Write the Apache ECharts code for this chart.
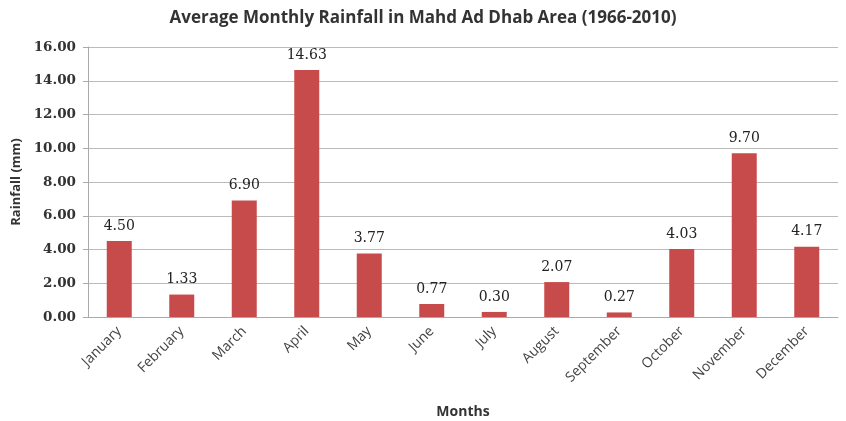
<!DOCTYPE html>
<html><head><meta charset="utf-8">
<script src="https://cdn.jsdelivr.net/npm/echarts@6/dist/echarts.min.js"></script>
<style>html,body{margin:0;padding:0;background:#fff}#c{width:846px;height:421px}</style>
</head><body><div id="c"></div>
<script>
const months = ["January","February","March","April","May","June","July","August","September","October","November","December"];
const rainfall = [4.50,1.33,6.90,14.63,3.77,0.77,0.30,2.07,0.27,4.03,9.70,4.17];
const yMin = 0, yMax = 16, yStep = 2;
const chart = echarts.init(document.getElementById('c'));
chart.setOption({
  animation:false,
  title:{text:'Average Monthly Rainfall in Mahd Ad Dhab Area (1966-2010)',left:'center',top:5,
    textStyle:{fontFamily:'Open Sans',fontWeight:'bold',fontSize:17,color:'#333'}},
  grid:{left:88,right:8,top:47,bottom:104,outerBoundsMode:'none',containLabel:false},
  xAxis:{type:'category',data:months,name:'Months',nameLocation:'middle',nameGap:88,
    nameTextStyle:{fontFamily:'Open Sans',fontWeight:'bold',fontSize:14,color:'#333'},
    axisLine:{lineStyle:{color:'#aaa'}},axisTick:{show:false},
    axisLabel:{rotate:45,fontFamily:'Open Sans',fontSize:14,color:'#444',margin:12,interval:0}},
  yAxis:{type:'value',min:yMin,max:yMax,interval:yStep,name:'Rainfall (mm)',nameLocation:'middle',nameGap:59,
    nameTextStyle:{fontFamily:'Open Sans',fontWeight:'bold',fontSize:13,color:'#333'},
    axisLine:{show:true,lineStyle:{color:'#aaa'}},axisTick:{show:true,length:5,lineStyle:{color:'#aaa'}},
    splitLine:{lineStyle:{color:'#bbb'}},
    axisLabel:{formatter:v=>v.toFixed(2),fontFamily:'DejaVu Serif',fontWeight:'bold',fontSize:13.5,color:'#333',margin:12}},
  series:[{type:'bar',data:rainfall,barWidth:25,itemStyle:{color:'#c84b4b'},
    label:{show:true,position:'top',distance:8,formatter:p=>p.value.toFixed(2),
      fontFamily:'DejaVu Serif',fontSize:14,color:'#222'}}]
});
</script></body></html>
